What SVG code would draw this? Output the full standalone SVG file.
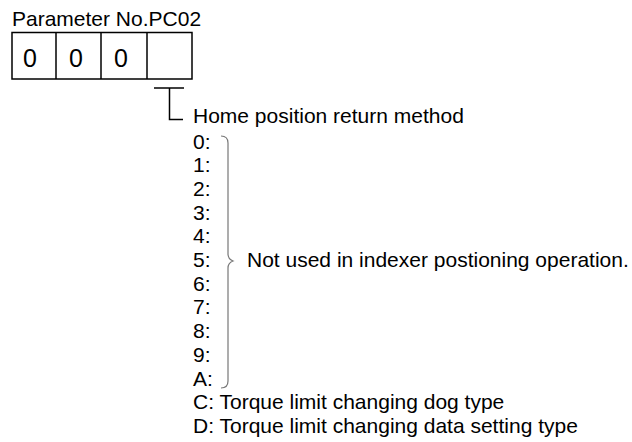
<svg xmlns="http://www.w3.org/2000/svg" width="632" height="442" viewBox="0 0 632 442">
<style>
text{font-family:"Liberation Sans",Arial,sans-serif;fill:#000}
.t{font-size:21px}
.d{font-size:25px;text-anchor:middle}
.ln{fill:none;stroke:#000;stroke-width:1.5}
.br{fill:none;stroke:#777;stroke-width:1.2}
</style>
<rect width="632" height="442" fill="#fff"/>
<g id="header"><text class="t" x="12" y="25.5">Parameter No.PC02</text></g>
<g id="digits">
<rect class="ln" x="12" y="32.5" width="180" height="46.5"/>
<line class="ln" x1="56" y1="32.5" x2="56" y2="79"/>
<line class="ln" x1="101" y1="32.5" x2="101" y2="79"/>
<line class="ln" x1="147" y1="32.5" x2="147" y2="79"/>
<text class="d" x="30" y="67">0</text>
<text class="d" x="76" y="67">0</text>
<text class="d" x="121" y="67">0</text>
</g>
<g id="connectors">
<line class="ln" x1="154" y1="88" x2="184" y2="88"/>
<polyline class="ln" points="169.5,88 169.5,119.5 183,119.5"/>
<path class="br" d="M221,136 Q228,136 228,143 L228,254 Q228,259 233,261 Q228,263 228,268 L228,381 Q228,388 221,388"/>
</g>
<g id="method">
<text class="t" x="193" y="123">Home position return method</text>
<text class="t" x="193" y="148.5">0:</text>
<text class="t" x="193" y="172.2">1:</text>
<text class="t" x="193" y="195.9">2:</text>
<text class="t" x="193" y="219.6">3:</text>
<text class="t" x="193" y="243.3">4:</text>
<text class="t" x="193" y="267">5:</text>
<text class="t" x="193" y="290.7">6:</text>
<text class="t" x="193" y="314.4">7:</text>
<text class="t" x="193" y="338.1">8:</text>
<text class="t" x="193" y="361.8">9:</text>
<text class="t" x="193" y="385.5">A:</text>
<text class="t" x="193" y="409.2">C: Torque limit changing dog type</text>
<text class="t" x="193" y="432.9">D: Torque limit changing data setting type</text>
<text class="t" x="247" y="267">Not used in indexer postioning operation.</text>
</g>
</svg>
